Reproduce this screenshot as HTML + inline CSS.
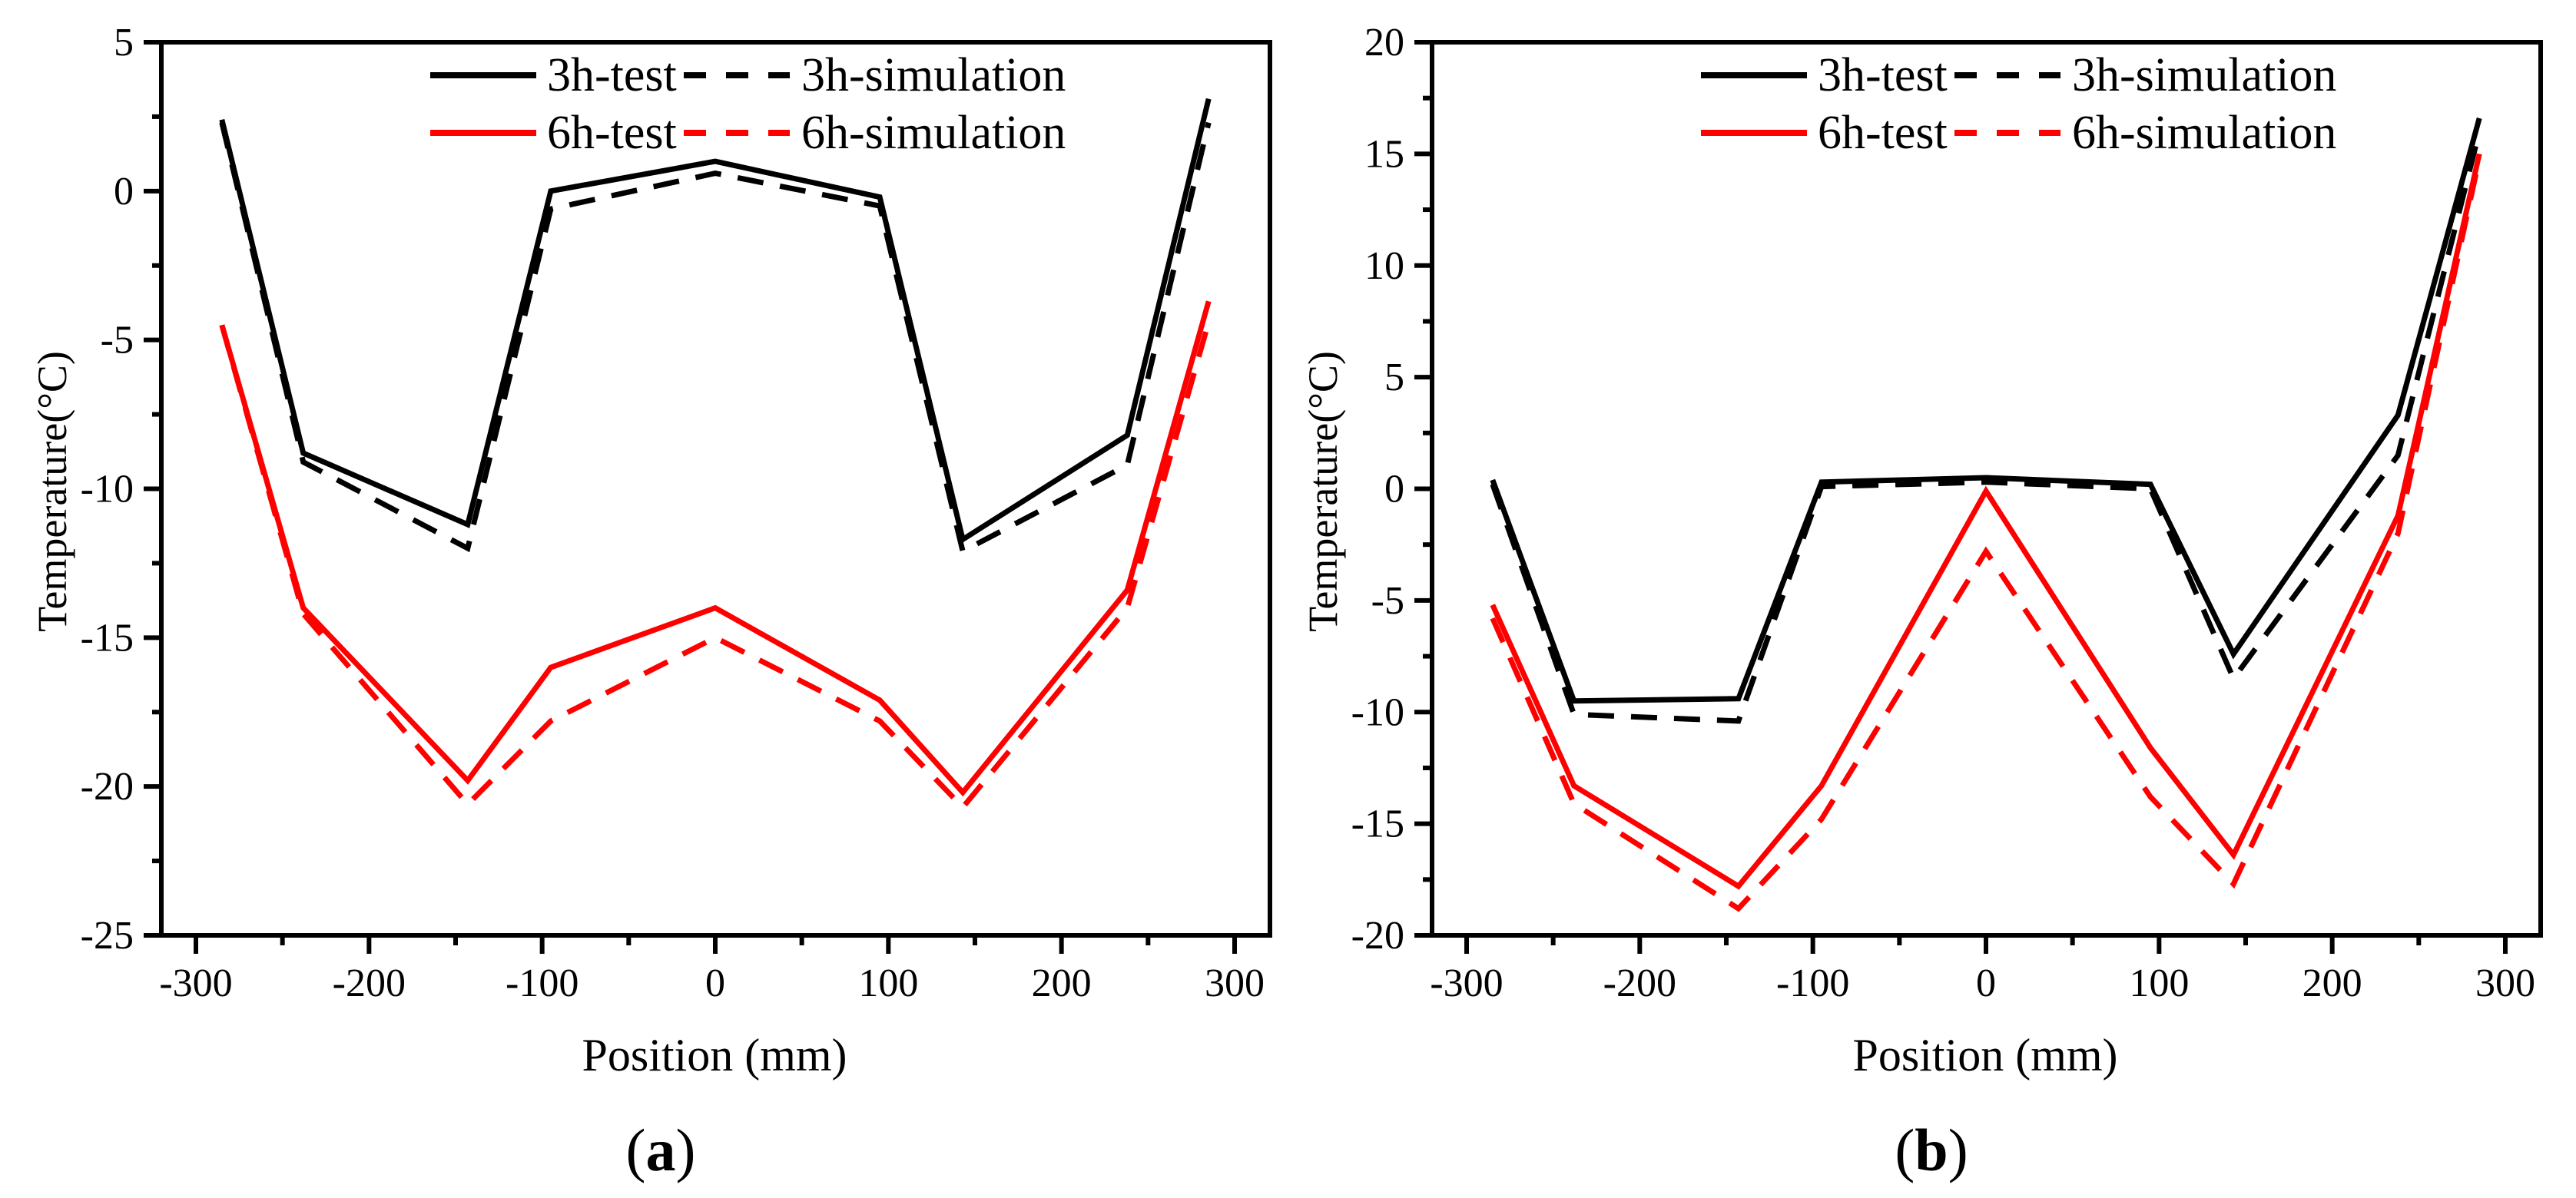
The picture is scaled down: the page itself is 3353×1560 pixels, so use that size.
<!DOCTYPE html>
<html><head><meta charset="utf-8">
<style>
html,body{margin:0;padding:0;background:#fff;}
svg{display:block;font-family:"Liberation Serif",serif;}
</style></head>
<body>
<svg id="chart" width="3353" height="1560" viewBox="0 0 3353 1560" xmlns="http://www.w3.org/2000/svg"></svg>
<script>
const positions = [-285, -238, -143, -95, 0, 95, 143, 238, 285];
const xTicks = [-300, -200, -100, 0, 100, 200, 300];
const aTest3h = [2.4, -8.8, -11.2, 0.0, 1.0, -0.2, -11.7, -8.2, 3.1];
const aSim3h = [2.3, -9.1, -12.0, -0.6, 0.6, -0.5, -12.1, -9.2, 2.3];
const aTest6h = [-4.5, -14.0, -19.8, -16.0, -14.0, -17.1, -20.2, -13.4, -3.7];
const aSim6h = [-4.5, -14.2, -20.6, -17.8, -15.0, -17.8, -20.7, -14.0, -4.4];
const aYTicks = [5, 0, -5, -10, -15, -20, -25];
const bTest3h = [0.4, -9.5, -9.4, 0.3, 0.5, 0.2, -7.4, 3.3, 16.6];
const bSim3h = [0.2, -10.1, -10.4, 0.1, 0.3, 0.0, -8.5, 1.5, 16.0];
const bTest6h = [-5.2, -13.3, -17.8, -13.3, -0.1, -11.6, -16.4, -1.2, 15.0];
const bSim6h = [-5.8, -14.1, -18.8, -14.8, -2.8, -13.8, -17.7, -2.0, 14.8];
const bYTicks = [20, 15, 10, 5, 0, -5, -10, -15, -20];

const NS = "http://www.w3.org/2000/svg";
const svg = document.getElementById('chart');
function mk(tag, attrs, parent){
  const e = document.createElementNS(NS, tag);
  for (const k in attrs) e.setAttribute(k, attrs[k]);
  parent.appendChild(e);
  return e;
}

function panel(ox, name, letter, yMin, yMax, yTicks, series){
  const g = mk('g', {}, svg);
  
  
  const L = ox + 210, R = ox + 1653, T = 55, B = 1218;
  const sx = v => (ox + 255) + (v + 300) * (1352 / 600);
  const sy = v => T + (yMax - v) * (B - T) / (yMax - yMin);
  series.forEach(s => {
    const pts = positions.map((p, i) => sx(p).toFixed(1) + ',' + sy(s.vals[i]).toFixed(1)).join(' ');
    const pl = mk('polyline', {points: pts, fill: 'none', stroke: s.color, 'stroke-width': 7, 'stroke-dasharray': s.dash ? '34 22' : 'none', 'stroke-linejoin': 'miter'}, g);
    
    
  });
  const fr = mk('rect', {x: L, y: T, width: R - L, height: B - T, fill: 'none', stroke: '#000', 'stroke-width': 6}, g);
  
  
  const xa = mk('g', {}, g);
  
  
  for (let v = -300; v <= 300; v += 50) {
    mk('line', {x1: sx(v), x2: sx(v), y1: B, y2: B + (v % 100 === 0 ? 24 : 13), stroke: '#000', 'stroke-width': 6}, xa);
  }
  xTicks.forEach(v => {
    const t = mk('text', {x: sx(v), y: 1297, 'text-anchor': 'middle', 'font-size': 52}, xa);
    t.textContent = v;
    
    
  });
  const ya = mk('g', {}, g);
  
  
  for (let v = yMin; v <= yMax; v += 2.5) {
    mk('line', {x1: L, x2: L - (v % 5 === 0 ? 23 : 12), y1: sy(v), y2: sy(v), stroke: '#000', 'stroke-width': 6}, ya);
  }
  yTicks.forEach(v => {
    const t = mk('text', {x: L - 36, y: sy(v) + 17, 'text-anchor': 'end', 'font-size': 52}, ya);
    t.textContent = v;
    
    
  });
  const yt = mk('text', {x: 0, y: 0, 'text-anchor': 'middle', 'font-size': 54, transform: `translate(${ox + 86},${640}) rotate(-90)`}, g);
  yt.textContent = 'Temperature(°C)';
  
  
  const xt = mk('text', {x: ox + 930, y: 1394, 'text-anchor': 'middle', 'font-size': 60}, g);
  xt.textContent = 'Position (mm)';
  
  
  const cap = mk('text', {x: ox + 860, y: 1524, 'text-anchor': 'middle', 'font-size': 78}, g);
  cap.innerHTML = '(<tspan font-weight="bold">' + letter + '</tspan>)';
  
  
  const lg = mk('g', {}, g);
  
  
  const ent = [
    {x1: 560, x2: 698, tx: 712, y: 98, c: '#000', d: false, lab: '3h-test'},
    {x1: 890, x2: 1028, tx: 1043, y: 98, c: '#000', d: true, lab: '3h-simulation'},
    {x1: 560, x2: 698, tx: 712, y: 173, c: '#f00', d: false, lab: '6h-test'},
    {x1: 890, x2: 1028, tx: 1043, y: 173, c: '#f00', d: true, lab: '6h-simulation'}
  ];
  ent.forEach(e => {
    const eg = mk('g', {}, lg);
    
    
    mk('line', {x1: ox + e.x1, x2: ox + e.x2, y1: e.y, y2: e.y, stroke: e.c, 'stroke-width': 8, 'stroke-dasharray': e.d ? '29 26' : 'none'}, eg);
    const t = mk('text', {x: ox + e.tx, y: e.y + 20, 'font-size': 62}, eg);
    t.textContent = e.lab;
  });
}

panel(0, 'a', 'a', -25, 5, aYTicks, [
  {key: '3h-test', vals: aTest3h, color: '#000', dash: false},
  {key: '3h-simulation', vals: aSim3h, color: '#000', dash: true},
  {key: '6h-test', vals: aTest6h, color: '#f00', dash: false},
  {key: '6h-simulation', vals: aSim6h, color: '#f00', dash: true}
]);
panel(1654, 'b', 'b', -20, 20, bYTicks, [
  {key: '3h-test', vals: bTest3h, color: '#000', dash: false},
  {key: '3h-simulation', vals: bSim3h, color: '#000', dash: true},
  {key: '6h-test', vals: bTest6h, color: '#f00', dash: false},
  {key: '6h-simulation', vals: bSim6h, color: '#f00', dash: true}
]);
</script>
</body></html>
